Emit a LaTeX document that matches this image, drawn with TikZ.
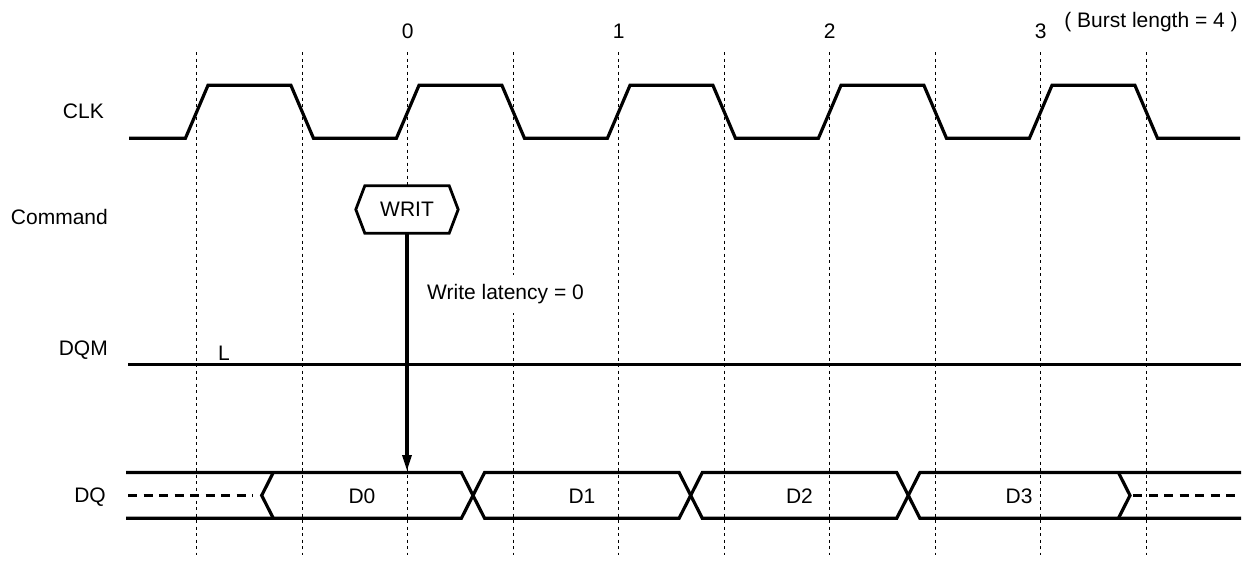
\documentclass[tikz,border=0pt]{standalone}
\usepackage{fontspec}
\setmainfont{Liberation Sans}
\usetikzlibrary{arrows.meta}
\begin{document}
\begin{tikzpicture}[x=1pt,y=-1pt,
  sig/.style={line width=3.2pt, line join=miter},
  gridline/.style={line width=1.1pt, dash pattern=on 3pt off 3.5pt},
  dashsig/.style={line width=3.2pt, dash pattern=on 9pt off 6.5pt},
  lbl/.style={font=\fontsize{21}{25}\selectfont, inner sep=0pt},
  arr/.style={line width=3.2pt, -{Triangle[length=16pt,width=9pt]}}]
\useasboundingbox (0,0) rectangle (1253,562);
\fill[white] (0,0) rectangle (1253,562);
% vertical reference lines
\foreach \k in {0,...,9}
  \draw[gridline] ({196.7+105.5*\k},52) -- ({196.7+105.5*\k},555);
% signal names
\node[lbl, anchor=east] (lclk) at (104,111) {CLK};
\node[lbl, anchor=east] (lcmd) at (108,217) {Command};
\node[lbl, anchor=east] (ldqm) at (108,350) {DQM};
\node[lbl, anchor=east] (ldq) at (106,497) {DQ};
% clock numbers
\node[lbl] (n0) at (407.7,31) {0};
\node[lbl] (n1) at (618.7,31) {1};
\node[lbl] (n2) at (829.7,31) {2};
\node[lbl] (n3) at (1040.7,31) {3};
\node[lbl] (bl) at (1151,22) {( Burst length = 4 )};
% CLK
\draw[sig] (129,138.3)
  \foreach \k in {0,...,4} {
    -- ({196.7+211*\k-11.3},138.3) -- ({196.7+211*\k+11.3},85.3)
    -- ({302.2+211*\k-11.3},85.3) -- ({302.2+211*\k+11.3},138.3) }
  -- (1240,138.3);
% DQM
\draw[sig, line width=3.5pt] (128,364.3) -- (1241,364.3);
\node[lbl] (lL) at (224,353) {L};
% DQ
\draw[sig] (126,472.5) -- (461.4,472.5) -- (484.6,518.3) -- (679.1,518.3) -- (702.3,472.5)
  -- (896.7,472.5) -- (919.9,518.3) -- (1241,518.3);
\draw[sig] (126,518.3) -- (461.4,518.3) -- (484.6,472.5) -- (679.1,472.5) -- (702.3,518.3)
  -- (896.7,518.3) -- (919.9,472.5) -- (1241,472.5);
\draw[sig] (273.3,472.5) -- (261.7,495.4) -- (273.3,518.3);
\draw[sig] (1118.4,472.5) -- (1130,495.4) -- (1118.4,518.3);
\draw[dashsig] (128,495.4) -- (253,495.4);
\draw[dashsig] (1133,495.4) -- (1241,495.4);
\node[lbl] (d0) at (362,496) {D0};
\node[lbl] (d1) at (582,496) {D1};
\node[lbl] (d2) at (799.5,496) {D2};
\node[lbl] (d3) at (1019,496) {D3};
% WRIT command
\node[lbl, minimum width=102pt, minimum height=47pt, fill=white] (w) at (407,209.5) {WRIT};
\draw[sig, line width=2.8pt] (w.west) -- ([xshift=9pt]w.north west) -- ([xshift=-9pt]w.north east)
  -- (w.east) -- ([xshift=-9pt]w.south east) -- ([xshift=9pt]w.south west) -- cycle;
\coordinate (dqtop) at (407,471);
\draw[arr] (w.south) -- (dqtop);
\node[lbl, anchor=west, fill=white, inner xsep=2pt, inner ysep=9pt] (wl) at (425,294) {Write latency = 0};
\end{tikzpicture}
\end{document}
